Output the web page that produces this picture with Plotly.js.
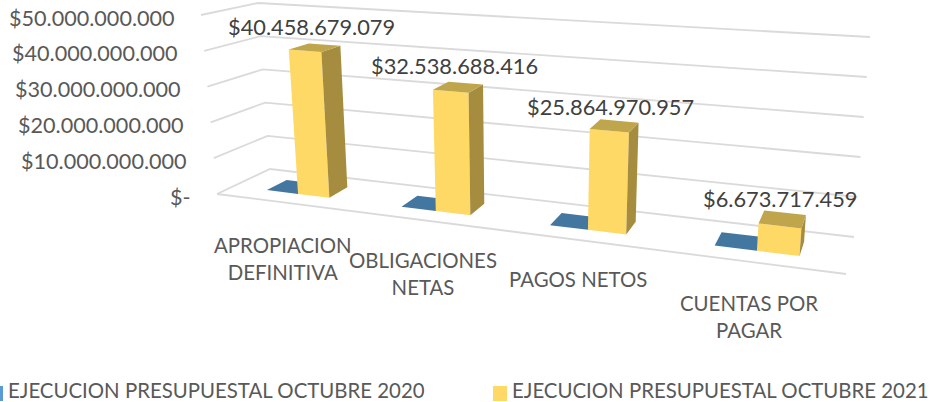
<!DOCTYPE html>
<html><head><meta charset="utf-8">
<script src="https://cdn.plot.ly/plotly-3.0.1.min.js"></script>
<style>html,body{margin:0;padding:0;background:#fff;overflow:hidden}</style></head>
<body><div id="chart" style="width:930px;height:402px"></div>
<script>
const categories = ["APROPIACION<br>DEFINITIVA","OBLIGACIONES<br>NETAS","PAGOS NETOS","CUENTAS POR<br>PAGAR"];
const series2020 = [0,0,0,0];
const series2021 = [40458679079,32538688416,25864970957,6673717459];
const seriesNames = ["EJECUCION PRESUPUESTAL OCTUBRE 2020","EJECUCION PRESUPUESTAL OCTUBRE 2021"];
const tickVals = [0,10000000000,20000000000,30000000000,40000000000,50000000000];
const tickText = ["$-","$10.000.000.000","$20.000.000.000","$30.000.000.000","$40.000.000.000","$50.000.000.000"];

// 3D view of the Excel chart box
const AXMAX=5e10, PERSP=1.227;
const FL0=[217,194],FL1=[201,15],BL0=[270,169],BL1=[258,3],FR0=[846,274],FR1=[863,59],BR0=[854,237],BR1=[870,37];
const lerp=(a,b,t)=>[a[0]+(b[0]-a[0])*t,a[1]+(b[1]-a[1])*t];
const Y0=196, PXPER=35.4/1e10, W=930, H=402;
function proj(u,d,val){
  const v=val/AXMAX, s=u/(u+(1-u)*PERSP);
  const L=lerp(lerp(FL0,BL0,d),lerp(FL1,BL1,d),v), R=lerp(lerp(FR0,BR0,d),lerp(FR1,BR1,d),v);
  const p=lerp(L,R,s);
  return [p[0],(Y0-p[1])/PXPER];
}
const traces=[];
function poly(pts,color,name){
  traces.push({type:'scatter',mode:'lines',x:pts.map(p=>p[0]).concat(pts[0][0]),y:pts.map(p=>p[1]).concat(pts[0][1]),
    fill:'toself',fillcolor:color,line:{width:0,color:color},name:name,showlegend:false,hoverinfo:'skip'});
}
function line(pts){
  traces.push({type:'scatter',mode:'lines',x:pts.map(p=>p[0]),y:pts.map(p=>p[1]),line:{color:'#DADADA',width:1.8},showlegend:false,hoverinfo:'skip'});
}
tickVals.forEach(t=>line([proj(0,0,t),proj(0,1,t),proj(1,1,t)]));
line([proj(0,0,0),proj(1,0,0)]);
const D0=0.32,D1=0.71,BW=0.06,YW=0.059;
function box(u0,u1,val,front,side,top,name){
  poly([proj(u0,D0,0),proj(u1,D0,0),proj(u1,D0,val),proj(u0,D0,val)],front,name);
  poly([proj(u1,D0,0),proj(u1,D1,0),proj(u1,D1,val),proj(u1,D0,val)],side,name);
  poly([proj(u0,D0,val),proj(u1,D0,val),proj(u1,D1,val),proj(u0,D1,val)],top,name);
}
categories.forEach((c,i)=>{
  const uc=(i+0.5)/categories.length;
  box(uc-BW,uc,series2020[i],'#41719C','#41719C','#44779F',seriesNames[0]);
  box(uc,uc+YW,series2021[i],'#FFD966','#A68C3F','#BFA64D',seriesNames[1]);
});
const fmt=v=>'$'+String(v).replace(/\B(?=(\d{3})+$)/g,'.');
const px=x=>x/W, py=y=>1-y/H;
const FS=20.4, FSNUM=21.8, FSTICK=21.6, TXT='#595959';
const annos=[];
function note(text,x,y,color,size,anchor,h){
  const a={text:text,xref:'paper',yref:'paper',x:px(x),y:py(y),xanchor:anchor||'center',yanchor:'middle',showarrow:false,
    font:{family:'Lato',size:size,color:color},align:'center'};
  if(h){a.height=h;}
  annos.push(a);
}
// value-axis labels follow the front edge of the left wall
tickVals.forEach((t,i)=>{
  const p=proj(0,0,t);
  annos.push({text:tickText[i],xref:'x',yref:'y',x:p[0],y:p[1],xanchor:'right',yanchor:'middle',xshift:-24.5,yshift:-2.5,showarrow:false,
    font:{family:'Lato',size:FSTICK,color:TXT}});
});
const labelPos=[[311.5,27],[454,65],[610.5,106],[780.5,198]];
series2021.forEach((v,i)=>note(fmt(v),labelPos[i][0],labelPos[i][1],'#404040',FSNUM));
const catPos=[[283,258],[423,273],[578,279],[749,316]];
categories.forEach((c,i)=>note(c,catPos[i][0],catPos[i][1],TXT,FS));
note(seriesNames[0],6,389.5,TXT,FS,'left',21);
note(seriesNames[1],510,389.5,TXT,FS,'left',21);
const shapes=[
 {type:'rect',xref:'paper',yref:'paper',x0:px(-10),x1:px(3),y0:py(386),y1:py(401),fillcolor:'#5B9BD5',line:{width:0}},
 {type:'rect',xref:'paper',yref:'paper',x0:px(493),x1:px(507),y0:py(386),y1:py(401),fillcolor:'#FFD966',line:{width:0}}
];
const layout={
  width:W,height:H,margin:{l:0,r:0,t:0,b:0,pad:0},paper_bgcolor:'#fff',plot_bgcolor:'#fff',showlegend:false,
  font:{family:'Lato',size:FS,color:TXT},
  xaxis:{range:[0,W],visible:false,fixedrange:true},
  yaxis:{range:[(Y0-H)/PXPER,Y0/PXPER],visible:false,fixedrange:true},
  annotations:annos,shapes:shapes
};
Plotly.newPlot('chart',traces,layout,{displayModeBar:false,staticPlot:true});
</script></body></html>
